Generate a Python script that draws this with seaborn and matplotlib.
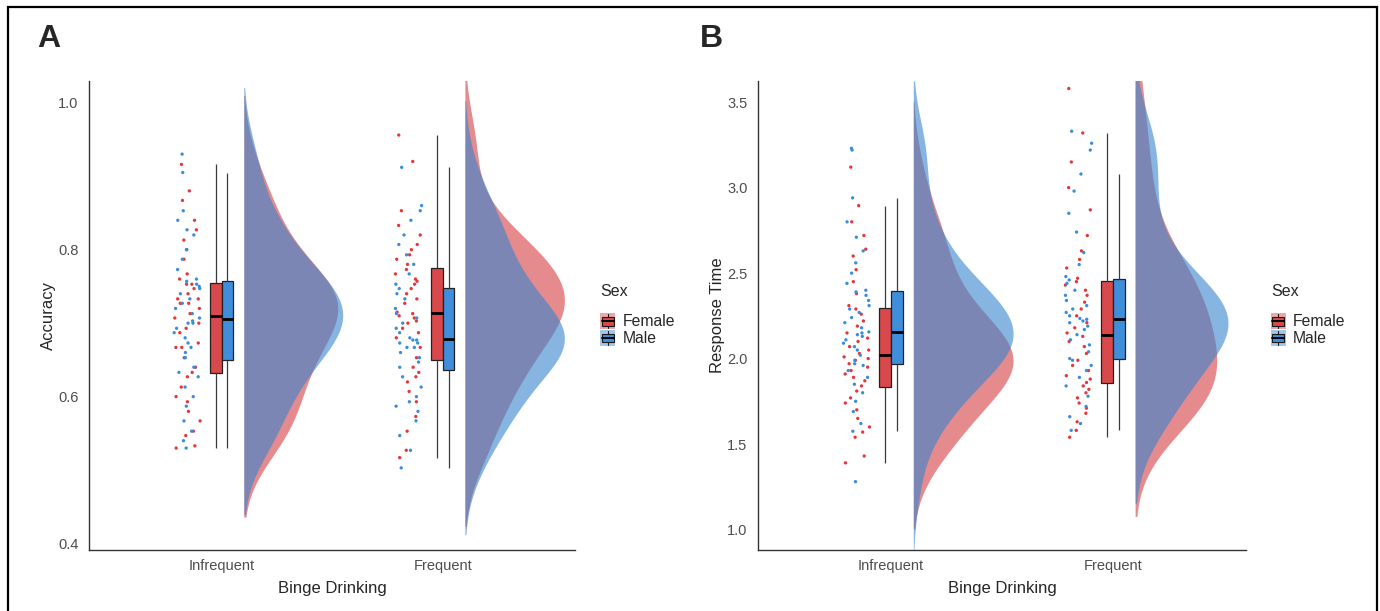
import numpy as np
import pandas as pd
import matplotlib
matplotlib.use("Agg")
import matplotlib.pyplot as plt
from matplotlib.patches import Rectangle, Patch
from matplotlib.lines import Line2D
from matplotlib.legend_handler import HandlerBase
import seaborn as sns

groups = ["Infrequent", "Frequent"]
sexes = ["Female", "Male"]

# accuracy (panel A)
acc_inf_female = [0.53, 0.533, 0.547, 0.553, 0.567, 0.58, 0.593, 0.60, 0.613, 0.627,
                  0.633, 0.64, 0.653, 0.667, 0.667, 0.673, 0.687, 0.693, 0.70, 0.707,
                  0.713, 0.72, 0.727, 0.727, 0.733, 0.733, 0.74, 0.747, 0.753, 0.753,
                  0.76, 0.767, 0.787, 0.80, 0.813, 0.827, 0.84, 0.867, 0.88, 0.916]
acc_inf_male = [0.53, 0.54, 0.553, 0.567, 0.587, 0.60, 0.613, 0.627, 0.633, 0.64,
                0.653, 0.66, 0.667, 0.673, 0.68, 0.687, 0.693, 0.70, 0.70, 0.703,
                0.707, 0.713, 0.72, 0.727, 0.733, 0.74, 0.747, 0.75, 0.753, 0.757,
                0.76, 0.773, 0.787, 0.80, 0.82, 0.827, 0.84, 0.853, 0.905, 0.93]
acc_freq_female = [0.517, 0.527, 0.553, 0.573, 0.593, 0.607, 0.62, 0.627, 0.633, 0.64,
                   0.653, 0.667, 0.68, 0.687, 0.693, 0.70, 0.703, 0.707, 0.71, 0.713,
                   0.715, 0.727, 0.733, 0.74, 0.747, 0.753, 0.757, 0.76, 0.767, 0.773,
                   0.78, 0.787, 0.793, 0.80, 0.807, 0.82, 0.833, 0.853, 0.92, 0.956]
acc_freq_male = [0.503, 0.527, 0.547, 0.567, 0.58, 0.587, 0.593, 0.60, 0.613, 0.627,
                 0.64, 0.647, 0.653, 0.66, 0.667, 0.667, 0.673, 0.673, 0.677, 0.677,
                 0.68, 0.687, 0.693, 0.70, 0.707, 0.713, 0.72, 0.733, 0.74, 0.747,
                 0.753, 0.767, 0.78, 0.793, 0.807, 0.82, 0.84, 0.853, 0.86, 0.912]

# response time (panel B)
rt_inf_female = [1.39, 1.43, 1.54, 1.57, 1.60, 1.65, 1.70, 1.74, 1.77, 1.81,
                 1.84, 1.87, 1.89, 1.91, 1.93, 1.95, 1.97, 1.99, 2.00, 2.01,
                 2.03, 2.05, 2.07, 2.10, 2.12, 2.15, 2.19, 2.22, 2.26, 2.29,
                 2.31, 2.38, 2.45, 2.52, 2.60, 2.64, 2.72, 2.80, 2.895, 3.12]
rt_inf_male = [1.28, 1.575, 1.62, 1.69, 1.75, 1.80, 1.85, 1.89, 1.93, 1.96,
               1.97, 1.99, 2.02, 2.05, 2.07, 2.09, 2.11, 2.13, 2.14, 2.15,
               2.156, 2.18, 2.21, 2.24, 2.27, 2.29, 2.31, 2.34, 2.37, 2.39,
               2.40, 2.44, 2.50, 2.56, 2.63, 2.71, 2.80, 2.94, 3.22, 3.23]
rt_freq_female = [1.54, 1.58, 1.63, 1.68, 1.71, 1.74, 1.77, 1.80, 1.82, 1.84,
                  1.86, 1.88, 1.90, 1.93, 1.96, 1.99, 2.03, 2.07, 2.10, 2.13,
                  2.15, 2.18, 2.21, 2.25, 2.29, 2.33, 2.37, 2.40, 2.43, 2.45,
                  2.47, 2.53, 2.58, 2.63, 2.72, 2.87, 3.00, 3.15, 3.32, 3.58]
rt_freq_male = [1.58, 1.62, 1.66, 1.72, 1.78, 1.84, 1.89, 1.93, 1.96, 1.99,
                2.00, 2.04, 2.08, 2.11, 2.14, 2.17, 2.19, 2.21, 2.22, 2.23,
                2.235, 2.25, 2.27, 2.29, 2.31, 2.34, 2.37, 2.40, 2.44, 2.46,
                2.48, 2.55, 2.62, 2.74, 2.85, 2.98, 3.08, 3.22, 3.26, 3.33]

point_pal = {"Female": "#E2383C", "Male": "#3A8DDE"}
box_pal = {"Female": "#D9484B", "Male": "#3F8EDB"}
dens_pal = {"Female": "#D43E41", "Male": "#3784D0"}

DENS_W = 0.45


def long_table(inf_f, inf_m, freq_f, freq_m):
    rows = []
    for g, gpos, vals in [("Infrequent", 0, (inf_f, inf_m)), ("Frequent", 1, (freq_f, freq_m))]:
        for sex, v in zip(sexes, vals):
            for y in v:
                rows.append((g, gpos, sex, y))
    df = pd.DataFrame(rows, columns=["group", "gpos", "sex", "value"])
    df["ppos"] = df["gpos"] - 0.155
    # the half violin's flat edge sits at pos - width/2
    df["vpos"] = df["gpos"] + 0.1 + DENS_W / 2
    return df


class BoxKey(HandlerBase):
    def create_artists(self, legend, orig_handle, xdescent, ydescent,
                       width, height, fontsize, trans):
        x0, y0 = -xdescent, -ydescent
        fc = orig_handle.get_facecolor()
        bgc = orig_handle.get_edgecolor()
        bg = Rectangle((x0, y0), width, height, facecolor=bgc, alpha=0.45,
                       edgecolor="none", transform=trans)
        box = Rectangle((x0 + 0.1 * width, y0 + 0.22 * height), 0.8 * width, 0.56 * height,
                        facecolor=fc, edgecolor="#1a1a1a", lw=0.8, transform=trans)
        med = Line2D([x0 + 0.1 * width, x0 + 0.9 * width], [y0 + 0.5 * height] * 2,
                     color="black", lw=1.4, transform=trans)
        wt = Line2D([x0 + width / 2] * 2, [y0 + 0.78 * height, y0 + 0.97 * height],
                    color="#1a1a1a", lw=0.8, transform=trans)
        wb = Line2D([x0 + width / 2] * 2, [y0 + 0.03 * height, y0 + 0.22 * height],
                    color="#1a1a1a", lw=0.8, transform=trans)
        return [bg, box, med, wt, wb]


def draw_panel(ax, df, ylim, yticks, ylabel):
    np.random.seed(7)
    sns.stripplot(data=df, x="ppos", y="value", hue="sex", hue_order=sexes,
                  palette=point_pal, native_scale=True, jitter=0.06, dodge=False,
                  size=2.4, linewidth=0, legend=False, ax=ax)
    sns.boxplot(data=df, x="gpos", y="value", hue="sex", hue_order=sexes,
                palette=box_pal, native_scale=True, width=0.105, gap=0, dodge=True,
                showfliers=False, whis=1.5, linecolor="#222222", linewidth=0.9,
                saturation=1, medianprops=dict(linewidth=2, color="black"),
                whiskerprops=dict(color="#3a3a3a"), capprops=dict(linewidth=0),
                legend=False, ax=ax)
    # half densities, both on the right side: the plotted sex is second in hue_order
    for sex, order in [("Female", ["Male", "Female"]), ("Male", ["Female", "Male"])]:
        sns.violinplot(data=df[df["sex"] == sex], x="vpos", y="value", hue="sex",
                       hue_order=order, palette=dens_pal, native_scale=True,
                       split=True, dodge=False, inner=None, cut=2, bw_adjust=1.0,
                       density_norm="area", width=DENS_W, linewidth=0, saturation=1,
                       alpha=0.6, legend=False, ax=ax)

    ax.set_xlim(-0.6, 1.6)
    ax.set_ylim(*ylim)
    ax.set_xticks([0, 1], groups)
    ax.set_yticks(yticks, [f"{t:.1f}" for t in yticks])
    ax.set_xlabel("Binge Drinking", fontsize=12, labelpad=6)
    ax.set_ylabel(ylabel, fontsize=12, labelpad=1.5)
    ax.tick_params(axis="both", labelsize=10.5, labelcolor="#4D4D4D", color="#333333",
                   length=4, width=0.9)
    ax.tick_params(axis="x", pad=2)
    for s in ["top", "right"]:
        ax.spines[s].set_visible(False)
    for s in ["left", "bottom"]:
        ax.spines[s].set_color("#333333")
        ax.spines[s].set_linewidth(1.0)
    ax.grid(False)

    handles = [Patch(facecolor=box_pal[s], edgecolor=dens_pal[s]) for s in sexes]
    leg = ax.legend(handles, sexes, handler_map={Patch: BoxKey()}, title="Sex",
                    loc="center left", bbox_to_anchor=(1.022, 0.5), frameon=False,
                    handlelength=0.95, handleheight=1.15, labelspacing=0.05,
                    handletextpad=0.45, alignment="left", fontsize=11.3,
                    title_fontsize=11.5)
    leg._legend_box.sep = 10


sns.set_style("white")
plt.rcParams["font.family"] = ["Liberation Sans", "DejaVu Sans"]

df_a = long_table(acc_inf_female, acc_inf_male, acc_freq_female, acc_freq_male)
df_b = long_table(rt_inf_female, rt_inf_male, rt_freq_female, rt_freq_male)

fig = plt.figure(figsize=(13.8, 6.11), dpi=100)
ax_a = fig.add_axes([0.0645, 0.0995, 0.3525, 0.7685])
ax_b = fig.add_axes([0.5493, 0.0995, 0.3536, 0.7685])

draw_panel(ax_a, df_a, (0.391, 1.03), [0.4, 0.6, 0.8, 1.0], "Accuracy")
draw_panel(ax_b, df_b, (0.879, 3.626), [1.0, 1.5, 2.0, 2.5, 3.0, 3.5], "Response Time")

fig.text(37 / 1380, 1 - 47 / 611, "A", fontsize=23, fontweight="bold", va="baseline")
fig.text(700 / 1380, 1 - 47 / 611, "B", fontsize=23, fontweight="bold", va="baseline")

fig.add_artist(Rectangle((0.0055, -0.05), 0.9925, 1.0385, transform=fig.transFigure,
                         fill=False, edgecolor="black", linewidth=1.6))

fig.savefig("out.png", dpi=100)
